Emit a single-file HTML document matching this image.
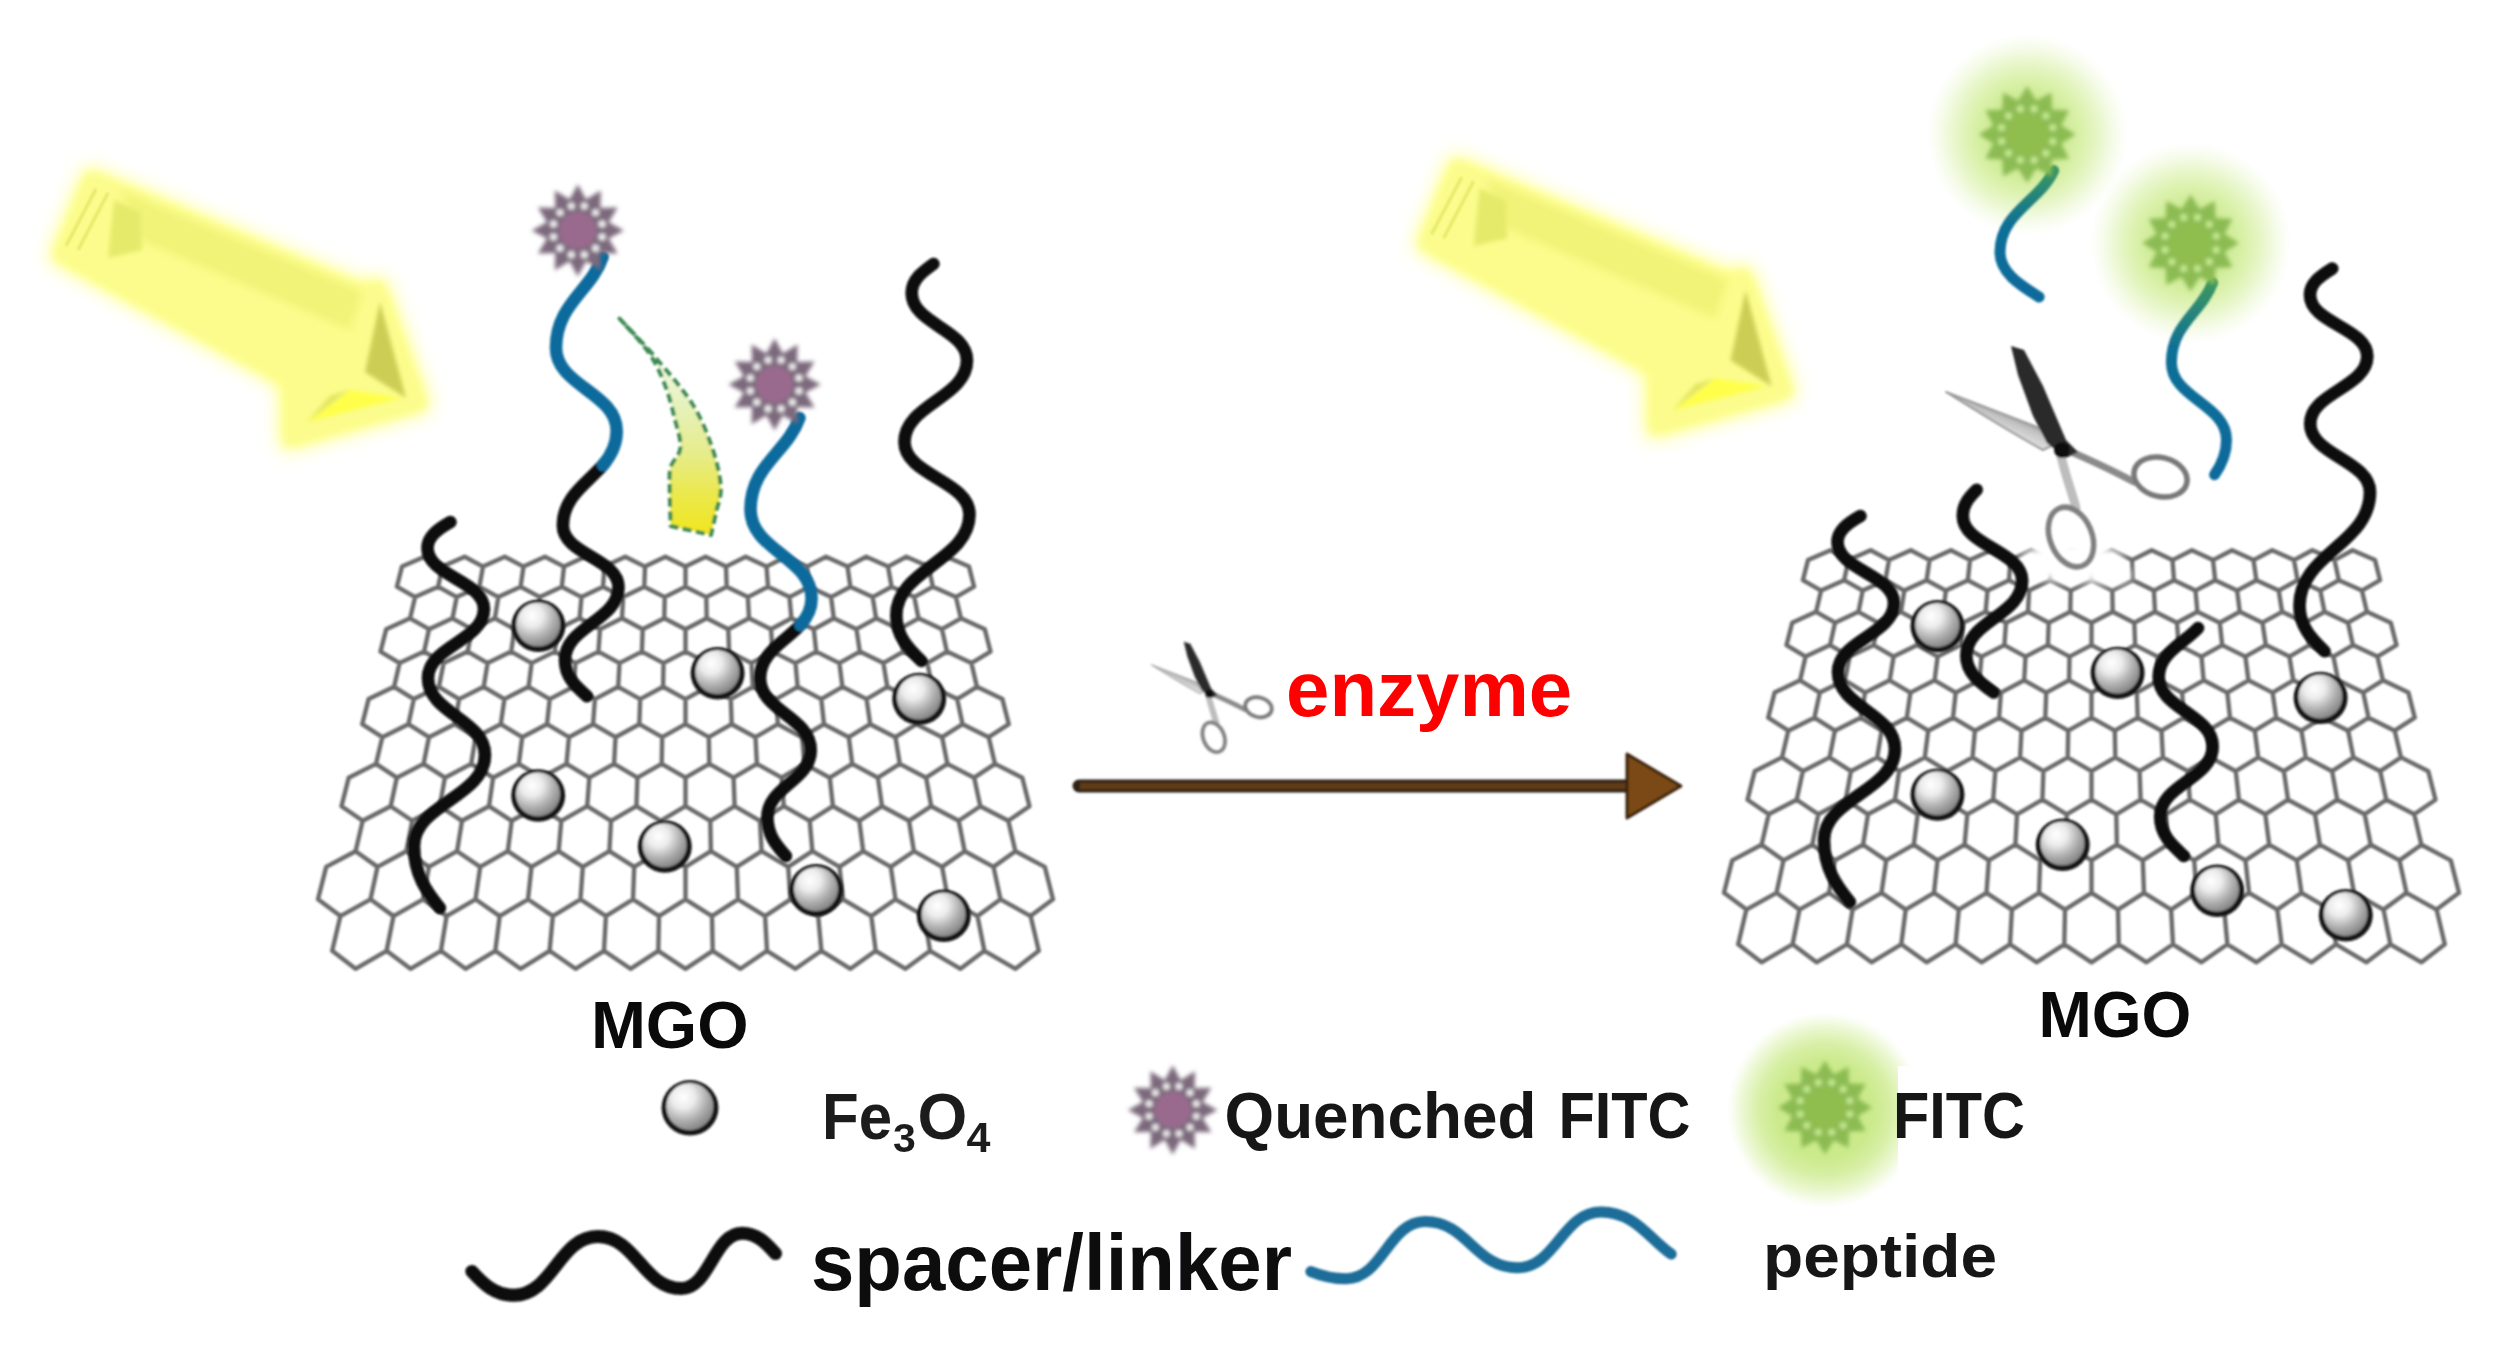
<!DOCTYPE html>
<html><head><meta charset="utf-8"><title>MGO enzyme scheme</title>
<style>html,body{margin:0;padding:0;background:#fff}body{width:2504px;height:1372px;overflow:hidden}svg{display:block}</style>
</head><body>
<svg width="2504" height="1372" viewBox="0 0 2504 1372">
<defs>
<radialGradient id="ballg" cx="0.36" cy="0.30" r="0.80">
<stop offset="0" stop-color="#ffffff"/><stop offset="0.30" stop-color="#ececec"/>
<stop offset="0.62" stop-color="#b0b0b0"/><stop offset="1" stop-color="#767676"/></radialGradient>
<radialGradient id="gglow" cx="0.5" cy="0.5" r="0.5">
<stop offset="0" stop-color="#c6e888" stop-opacity="0.95"/><stop offset="0.38" stop-color="#c8e98a" stop-opacity="0.9"/>
<stop offset="0.55" stop-color="#cdec8c" stop-opacity="0.74"/><stop offset="0.72" stop-color="#cdec8c" stop-opacity="0.46"/>
<stop offset="0.87" stop-color="#cdec8c" stop-opacity="0.18"/>
<stop offset="1" stop-color="#cdec8c" stop-opacity="0"/></radialGradient>
<radialGradient id="gglow2" cx="0.5" cy="0.5" r="0.5">
<stop offset="0" stop-color="#c6e880" stop-opacity="0.95"/><stop offset="0.5" stop-color="#c6e880" stop-opacity="0.9"/>
<stop offset="0.68" stop-color="#c8e984" stop-opacity="0.72"/>
<stop offset="0.85" stop-color="#cdec8c" stop-opacity="0.38"/><stop offset="0.95" stop-color="#cdec8c" stop-opacity="0.1"/>
<stop offset="1" stop-color="#cdec8c" stop-opacity="0"/></radialGradient>
<linearGradient id="swoosh" x1="0" y1="0" x2="0" y2="1">
<stop offset="0" stop-color="#e8f6e0" stop-opacity="0.3"/><stop offset="0.40" stop-color="#e6f2bc"/><stop offset="0.62" stop-color="#e6ec8c"/>
<stop offset="0.82" stop-color="#ebe84a"/><stop offset="1" stop-color="#f0e61e"/></linearGradient>
<linearGradient id="tail1" gradientUnits="userSpaceOnUse" x1="0" y1="165" x2="0" y2="300">
<stop offset="0" stop-color="#3f9a5c"/><stop offset="0.45" stop-color="#0f6f96"/><stop offset="1" stop-color="#0b6a9c"/></linearGradient>
<linearGradient id="tail2" gradientUnits="userSpaceOnUse" x1="0" y1="278" x2="0" y2="480">
<stop offset="0" stop-color="#3f9a5c"/><stop offset="0.35" stop-color="#0f6f96"/><stop offset="1" stop-color="#0b6a9c"/></linearGradient>
<linearGradient id="blade" gradientUnits="userSpaceOnUse" x1="2005" y1="408" x2="1995" y2="432">
<stop offset="0" stop-color="#868686"/><stop offset="0.4" stop-color="#c2c2c2"/><stop offset="1" stop-color="#e6e6e6"/></linearGradient>
<filter id="b1" filterUnits="userSpaceOnUse" x="0" y="0" width="2504" height="1372"><feGaussianBlur stdDeviation="1.2"/></filter>
<filter id="b05" filterUnits="userSpaceOnUse" x="0" y="0" width="2504" height="1372"><feGaussianBlur stdDeviation="0.7"/></filter>
<filter id="b15" filterUnits="userSpaceOnUse" x="0" y="0" width="2504" height="1372"><feGaussianBlur stdDeviation="2.3"/></filter>
<filter id="b2" filterUnits="userSpaceOnUse" x="0" y="0" width="2504" height="1372"><feGaussianBlur stdDeviation="2"/></filter>
<filter id="b4" filterUnits="userSpaceOnUse" x="0" y="0" width="2504" height="1372"><feGaussianBlur stdDeviation="4"/></filter>
<filter id="b10" filterUnits="userSpaceOnUse" x="0" y="0" width="2504" height="1372"><feGaussianBlur stdDeviation="10"/></filter>
<filter id="b14" filterUnits="userSpaceOnUse" x="0" y="0" width="2504" height="1372"><feGaussianBlur stdDeviation="14"/></filter>
</defs>
<rect width="2504" height="1372" fill="#ffffff"/>
<g><polygon points="89.0,173.0 362.0,288.0 381.0,283.0 425.0,406.0 286.0,445.0 286.0,383.0 55.0,257.0" fill="#ffff62" stroke="#ffff62" stroke-width="9" stroke-linejoin="round" filter="url(#b10)" opacity="0.95"/><polygon points="89.0,173.0 362.0,288.0 381.0,283.0 425.0,406.0 286.0,445.0 286.0,383.0 55.0,257.0" fill="#fbfc8c" stroke="#fbfc8c" stroke-width="3" stroke-linejoin="round" filter="url(#b4)"/><polygon points="120.0,190.0 362.0,292.0 350.0,330.0 140.0,240.0" fill="#f0f377" filter="url(#b4)"/><polygon points="114.0,200.0 140.0,212.0 142.0,250.0 108.0,258.0" fill="#e6ea6a" filter="url(#b2)"/><line x1="108.0" y1="193.0" x2="78.0" y2="250.0" stroke="#e4e86a" stroke-width="3" filter="url(#b1)"/><line x1="96.0" y1="189.0" x2="66.0" y2="246.0" stroke="#e4e86a" stroke-width="3" filter="url(#b1)"/><polygon points="380.0,302.0 365.0,372.0 406.0,398.0" fill="#cccd55" filter="url(#b2)"/><polygon points="307.0,422.0 349.0,390.0 401.0,398.0" fill="#ffff4a" filter="url(#b2)"/><polygon points="307.0,422.0 349.0,390.0 330.0,396.0" fill="#e2e45c" filter="url(#b2)"/></g>
<g><polygon points="1454.6,161.2 1727.6,276.2 1746.6,271.2 1790.6,394.2 1651.6,433.2 1651.6,371.2 1420.6,245.2" fill="#ffff62" stroke="#ffff62" stroke-width="9" stroke-linejoin="round" filter="url(#b10)" opacity="0.95"/><polygon points="1454.6,161.2 1727.6,276.2 1746.6,271.2 1790.6,394.2 1651.6,433.2 1651.6,371.2 1420.6,245.2" fill="#fbfc8c" stroke="#fbfc8c" stroke-width="3" stroke-linejoin="round" filter="url(#b4)"/><polygon points="1485.6,178.2 1727.6,280.2 1715.6,318.2 1505.6,228.2" fill="#f0f377" filter="url(#b4)"/><polygon points="1479.6,188.2 1505.6,200.2 1507.6,238.2 1473.6,246.2" fill="#e6ea6a" filter="url(#b2)"/><line x1="1473.6" y1="181.2" x2="1443.6" y2="238.2" stroke="#e4e86a" stroke-width="3" filter="url(#b1)"/><line x1="1461.6" y1="177.2" x2="1431.6" y2="234.2" stroke="#e4e86a" stroke-width="3" filter="url(#b1)"/><polygon points="1745.6,290.2 1730.6,360.2 1771.6,386.2" fill="#cccd55" filter="url(#b2)"/><polygon points="1672.6,410.2 1714.6,378.2 1766.6,386.2" fill="#ffff4a" filter="url(#b2)"/><polygon points="1672.6,410.2 1714.6,378.2 1695.6,384.2" fill="#e2e45c" filter="url(#b2)"/></g>
<g filter="url(#b1)">
<path d="M424.5,556.8 L442.5,566.6 L438.1,586.7 L415.1,597.1 L396.9,586.7 L402.0,566.6Z M464.7,556.8 L483.0,566.6 L479.4,586.7 L456.7,597.1 L438.1,586.7 L442.5,566.6Z M504.8,556.8 L523.5,566.6 L520.6,586.7 L498.3,597.1 L479.4,586.7 L483.0,566.6Z M545.0,556.8 L564.0,566.6 L561.8,586.7 L539.9,597.1 L520.6,586.7 L523.5,566.6Z M585.1,556.8 L604.5,566.6 L603.0,586.7 L581.5,597.1 L561.8,586.7 L564.0,566.6Z M625.3,556.8 L645.0,566.6 L644.3,586.7 L623.1,597.1 L603.0,586.7 L604.5,566.6Z M665.4,556.8 L685.5,566.6 L685.5,586.7 L664.7,597.1 L644.3,586.7 L645.0,566.6Z M705.6,556.8 L726.0,566.6 L726.7,586.7 L706.3,597.1 L685.5,586.7 L685.5,566.6Z M745.7,556.8 L766.5,566.6 L768.0,586.7 L747.9,597.1 L726.7,586.7 L726.0,566.6Z M785.9,556.8 L807.0,566.6 L809.2,586.7 L789.5,597.1 L768.0,586.7 L766.5,566.6Z M826.0,556.8 L847.5,566.6 L850.4,586.7 L831.1,597.1 L809.2,586.7 L807.0,566.6Z M866.2,556.8 L888.0,566.6 L891.6,586.7 L872.7,597.1 L850.4,586.7 L847.5,566.6Z M906.3,556.8 L928.5,566.6 L932.9,586.7 L914.3,597.1 L891.6,586.7 L888.0,566.6Z M946.5,556.8 L969.0,566.6 L974.1,586.7 L955.9,597.1 L932.9,586.7 L928.5,566.6Z M438.1,586.7 L456.7,597.1 L452.5,618.3 L429.0,629.2 L410.1,618.3 L415.1,597.1Z M479.4,586.7 L498.3,597.1 L494.9,618.3 L471.7,629.2 L452.5,618.3 L456.7,597.1Z M520.6,586.7 L539.9,597.1 L537.2,618.3 L514.5,629.2 L494.9,618.3 L498.3,597.1Z M561.8,586.7 L581.5,597.1 L579.6,618.3 L557.2,629.2 L537.2,618.3 L539.9,597.1Z M603.0,586.7 L623.1,597.1 L622.0,618.3 L600.0,629.2 L579.6,618.3 L581.5,597.1Z M644.3,586.7 L664.7,597.1 L664.3,618.3 L642.7,629.2 L622.0,618.3 L623.1,597.1Z M685.5,586.7 L706.3,597.1 L706.7,618.3 L685.5,629.2 L664.3,618.3 L664.7,597.1Z M726.7,586.7 L747.9,597.1 L749.0,618.3 L728.3,629.2 L706.7,618.3 L706.3,597.1Z M768.0,586.7 L789.5,597.1 L791.4,618.3 L771.0,629.2 L749.0,618.3 L747.9,597.1Z M809.2,586.7 L831.1,597.1 L833.8,618.3 L813.8,629.2 L791.4,618.3 L789.5,597.1Z M850.4,586.7 L872.7,597.1 L876.1,618.3 L856.5,629.2 L833.8,618.3 L831.1,597.1Z M891.6,586.7 L914.3,597.1 L918.5,618.3 L899.3,629.2 L876.1,618.3 L872.7,597.1Z M932.9,586.7 L955.9,597.1 L960.9,618.3 L942.0,629.2 L918.5,618.3 L914.3,597.1Z M410.1,618.3 L429.0,629.2 L424.1,651.6 L399.6,663.1 L380.5,651.6 L386.2,629.2Z M452.5,618.3 L471.7,629.2 L467.7,651.6 L443.6,663.1 L424.1,651.6 L429.0,629.2Z M494.9,618.3 L514.5,629.2 L511.2,651.6 L487.6,663.1 L467.7,651.6 L471.7,629.2Z M537.2,618.3 L557.2,629.2 L554.8,651.6 L531.6,663.1 L511.2,651.6 L514.5,629.2Z M579.6,618.3 L600.0,629.2 L598.4,651.6 L575.5,663.1 L554.8,651.6 L557.2,629.2Z M622.0,618.3 L642.7,629.2 L641.9,651.6 L619.5,663.1 L598.4,651.6 L600.0,629.2Z M664.3,618.3 L685.5,629.2 L685.5,651.6 L663.5,663.1 L641.9,651.6 L642.7,629.2Z M706.7,618.3 L728.3,629.2 L729.1,651.6 L707.5,663.1 L685.5,651.6 L685.5,629.2Z M749.0,618.3 L771.0,629.2 L772.6,651.6 L751.5,663.1 L729.1,651.6 L728.3,629.2Z M791.4,618.3 L813.8,629.2 L816.2,651.6 L795.5,663.1 L772.6,651.6 L771.0,629.2Z M833.8,618.3 L856.5,629.2 L859.8,651.6 L839.4,663.1 L816.2,651.6 L813.8,629.2Z M876.1,618.3 L899.3,629.2 L903.3,651.6 L883.4,663.1 L859.8,651.6 L856.5,629.2Z M918.5,618.3 L942.0,629.2 L946.9,651.6 L927.4,663.1 L903.3,651.6 L899.3,629.2Z M960.9,618.3 L984.8,629.2 L990.5,651.6 L971.4,663.1 L946.9,651.6 L942.0,629.2Z M424.1,651.6 L443.6,663.1 L438.9,686.8 L413.8,699.1 L394.1,686.8 L399.6,663.1Z M467.7,651.6 L487.6,663.1 L483.7,686.8 L459.1,699.1 L438.9,686.8 L443.6,663.1Z M511.2,651.6 L531.6,663.1 L528.6,686.8 L504.4,699.1 L483.7,686.8 L487.6,663.1Z M554.8,651.6 L575.5,663.1 L573.4,686.8 L549.7,699.1 L528.6,686.8 L531.6,663.1Z M598.4,651.6 L619.5,663.1 L618.2,686.8 L594.9,699.1 L573.4,686.8 L575.5,663.1Z M641.9,651.6 L663.5,663.1 L663.1,686.8 L640.2,699.1 L618.2,686.8 L619.5,663.1Z M685.5,651.6 L707.5,663.1 L707.9,686.8 L685.5,699.1 L663.1,686.8 L663.5,663.1Z M729.1,651.6 L751.5,663.1 L752.8,686.8 L730.8,699.1 L707.9,686.8 L707.5,663.1Z M772.6,651.6 L795.5,663.1 L797.6,686.8 L776.1,699.1 L752.8,686.8 L751.5,663.1Z M816.2,651.6 L839.4,663.1 L842.4,686.8 L821.3,699.1 L797.6,686.8 L795.5,663.1Z M859.8,651.6 L883.4,663.1 L887.3,686.8 L866.6,699.1 L842.4,686.8 L839.4,663.1Z M903.3,651.6 L927.4,663.1 L932.1,686.8 L911.9,699.1 L887.3,686.8 L883.4,663.1Z M946.9,651.6 L971.4,663.1 L976.9,686.8 L957.2,699.1 L932.1,686.8 L927.4,663.1Z M394.1,686.8 L413.8,699.1 L408.4,724.2 L382.3,737.2 L362.2,724.2 L368.6,699.1Z M438.9,686.8 L459.1,699.1 L454.6,724.2 L428.9,737.2 L408.4,724.2 L413.8,699.1Z M483.7,686.8 L504.4,699.1 L500.8,724.2 L475.6,737.2 L454.6,724.2 L459.1,699.1Z M528.6,686.8 L549.7,699.1 L547.0,724.2 L522.2,737.2 L500.8,724.2 L504.4,699.1Z M573.4,686.8 L594.9,699.1 L593.1,724.2 L568.9,737.2 L547.0,724.2 L549.7,699.1Z M618.2,686.8 L640.2,699.1 L639.3,724.2 L615.5,737.2 L593.1,724.2 L594.9,699.1Z M663.1,686.8 L685.5,699.1 L685.5,724.2 L662.2,737.2 L639.3,724.2 L640.2,699.1Z M707.9,686.8 L730.8,699.1 L731.7,724.2 L708.8,737.2 L685.5,724.2 L685.5,699.1Z M752.8,686.8 L776.1,699.1 L777.9,724.2 L755.5,737.2 L731.7,724.2 L730.8,699.1Z M797.6,686.8 L821.3,699.1 L824.0,724.2 L802.1,737.2 L777.9,724.2 L776.1,699.1Z M842.4,686.8 L866.6,699.1 L870.2,724.2 L848.8,737.2 L824.0,724.2 L821.3,699.1Z M887.3,686.8 L911.9,699.1 L916.4,724.2 L895.4,737.2 L870.2,724.2 L866.6,699.1Z M932.1,686.8 L957.2,699.1 L962.6,724.2 L942.1,737.2 L916.4,724.2 L911.9,699.1Z M976.9,686.8 L1002.4,699.1 L1008.8,724.2 L988.7,737.2 L962.6,724.2 L957.2,699.1Z M408.4,724.2 L428.9,737.2 L423.6,763.9 L396.8,777.7 L376.0,763.9 L382.3,737.2Z M454.6,724.2 L475.6,737.2 L471.2,763.9 L444.9,777.7 L423.6,763.9 L428.9,737.2Z M500.8,724.2 L522.2,737.2 L518.8,763.9 L493.1,777.7 L471.2,763.9 L475.6,737.2Z M547.0,724.2 L568.9,737.2 L566.5,763.9 L541.2,777.7 L518.8,763.9 L522.2,737.2Z M593.1,724.2 L615.5,737.2 L614.1,763.9 L589.3,777.7 L566.5,763.9 L568.9,737.2Z M639.3,724.2 L662.2,737.2 L661.7,763.9 L637.4,777.7 L614.1,763.9 L615.5,737.2Z M685.5,724.2 L708.8,737.2 L709.3,763.9 L685.5,777.7 L661.7,763.9 L662.2,737.2Z M731.7,724.2 L755.5,737.2 L756.9,763.9 L733.6,777.7 L709.3,763.9 L708.8,737.2Z M777.9,724.2 L802.1,737.2 L804.5,763.9 L781.7,777.7 L756.9,763.9 L755.5,737.2Z M824.0,724.2 L848.8,737.2 L852.2,763.9 L829.8,777.7 L804.5,763.9 L802.1,737.2Z M870.2,724.2 L895.4,737.2 L899.8,763.9 L877.9,777.7 L852.2,763.9 L848.8,737.2Z M916.4,724.2 L942.1,737.2 L947.4,763.9 L926.1,777.7 L899.8,763.9 L895.4,737.2Z M962.6,724.2 L988.7,737.2 L995.0,763.9 L974.2,777.7 L947.4,763.9 L942.1,737.2Z M376.0,763.9 L396.8,777.7 L390.7,806.2 L362.7,820.8 L341.5,806.2 L348.7,777.7Z M423.6,763.9 L444.9,777.7 L439.8,806.2 L412.3,820.8 L390.7,806.2 L396.8,777.7Z M471.2,763.9 L493.1,777.7 L489.0,806.2 L462.0,820.8 L439.8,806.2 L444.9,777.7Z M518.8,763.9 L541.2,777.7 L538.1,806.2 L511.7,820.8 L489.0,806.2 L493.1,777.7Z M566.5,763.9 L589.3,777.7 L587.2,806.2 L561.3,820.8 L538.1,806.2 L541.2,777.7Z M614.1,763.9 L637.4,777.7 L636.4,806.2 L611.0,820.8 L587.2,806.2 L589.3,777.7Z M661.7,763.9 L685.5,777.7 L685.5,806.2 L660.7,820.8 L636.4,806.2 L637.4,777.7Z M709.3,763.9 L733.6,777.7 L734.6,806.2 L710.3,820.8 L685.5,806.2 L685.5,777.7Z M756.9,763.9 L781.7,777.7 L783.8,806.2 L760.0,820.8 L734.6,806.2 L733.6,777.7Z M804.5,763.9 L829.8,777.7 L832.9,806.2 L809.7,820.8 L783.8,806.2 L781.7,777.7Z M852.2,763.9 L877.9,777.7 L882.0,806.2 L859.3,820.8 L832.9,806.2 L829.8,777.7Z M899.8,763.9 L926.1,777.7 L931.2,806.2 L909.0,820.8 L882.0,806.2 L877.9,777.7Z M947.4,763.9 L974.2,777.7 L980.3,806.2 L958.7,820.8 L931.2,806.2 L926.1,777.7Z M995.0,763.9 L1022.3,777.7 L1029.5,806.2 L1008.3,820.8 L980.3,806.2 L974.2,777.7Z M390.7,806.2 L412.3,820.8 L406.3,851.2 L377.5,866.9 L355.6,851.2 L362.7,820.8Z M439.8,806.2 L462.0,820.8 L457.1,851.2 L428.9,866.9 L406.3,851.2 L412.3,820.8Z M489.0,806.2 L511.7,820.8 L507.8,851.2 L480.2,866.9 L457.1,851.2 L462.0,820.8Z M538.1,806.2 L561.3,820.8 L558.6,851.2 L531.5,866.9 L507.8,851.2 L511.7,820.8Z M587.2,806.2 L611.0,820.8 L609.4,851.2 L582.8,866.9 L558.6,851.2 L561.3,820.8Z M636.4,806.2 L660.7,820.8 L660.1,851.2 L634.2,866.9 L609.4,851.2 L611.0,820.8Z M685.5,806.2 L710.3,820.8 L710.9,851.2 L685.5,866.9 L660.1,851.2 L660.7,820.8Z M734.6,806.2 L760.0,820.8 L761.6,851.2 L736.8,866.9 L710.9,851.2 L710.3,820.8Z M783.8,806.2 L809.7,820.8 L812.4,851.2 L788.2,866.9 L761.6,851.2 L760.0,820.8Z M832.9,806.2 L859.3,820.8 L863.2,851.2 L839.5,866.9 L812.4,851.2 L809.7,820.8Z M882.0,806.2 L909.0,820.8 L913.9,851.2 L890.8,866.9 L863.2,851.2 L859.3,820.8Z M931.2,806.2 L958.7,820.8 L964.7,851.2 L942.1,866.9 L913.9,851.2 L909.0,820.8Z M980.3,806.2 L1008.3,820.8 L1015.4,851.2 L993.5,866.9 L964.7,851.2 L958.7,820.8Z M355.6,851.2 L377.5,866.9 L370.5,899.3 L340.4,916.1 L318.0,899.3 L326.2,866.9Z M406.3,851.2 L428.9,866.9 L423.0,899.3 L393.5,916.1 L370.5,899.3 L377.5,866.9Z M457.1,851.2 L480.2,866.9 L475.5,899.3 L446.6,916.1 L423.0,899.3 L428.9,866.9Z M507.8,851.2 L531.5,866.9 L528.0,899.3 L499.7,916.1 L475.5,899.3 L480.2,866.9Z M558.6,851.2 L582.8,866.9 L580.5,899.3 L552.8,916.1 L528.0,899.3 L531.5,866.9Z M609.4,851.2 L634.2,866.9 L633.0,899.3 L605.9,916.1 L580.5,899.3 L582.8,866.9Z M660.1,851.2 L685.5,866.9 L685.5,899.3 L659.0,916.1 L633.0,899.3 L634.2,866.9Z M710.9,851.2 L736.8,866.9 L738.0,899.3 L712.0,916.1 L685.5,899.3 L685.5,866.9Z M761.6,851.2 L788.2,866.9 L790.5,899.3 L765.1,916.1 L738.0,899.3 L736.8,866.9Z M812.4,851.2 L839.5,866.9 L843.0,899.3 L818.2,916.1 L790.5,899.3 L788.2,866.9Z M863.2,851.2 L890.8,866.9 L895.5,899.3 L871.3,916.1 L843.0,899.3 L839.5,866.9Z M913.9,851.2 L942.1,866.9 L948.0,899.3 L924.4,916.1 L895.5,899.3 L890.8,866.9Z M964.7,851.2 L993.5,866.9 L1000.5,899.3 L977.5,916.1 L948.0,899.3 L942.1,866.9Z M1015.4,851.2 L1044.8,866.9 L1053.0,899.3 L1030.6,916.1 L1000.5,899.3 L993.5,866.9Z M370.5,899.3 L393.5,916.1 L386.6,950.8 L355.5,968.8 L332.2,950.8 L340.4,916.1Z M423.0,899.3 L446.6,916.1 L440.9,950.8 L410.5,968.8 L386.6,950.8 L393.5,916.1Z M475.5,899.3 L499.7,916.1 L495.3,950.8 L465.5,968.8 L440.9,950.8 L446.6,916.1Z M528.0,899.3 L552.8,916.1 L549.6,950.8 L520.5,968.8 L495.3,950.8 L499.7,916.1Z M580.5,899.3 L605.9,916.1 L604.0,950.8 L575.5,968.8 L549.6,950.8 L552.8,916.1Z M633.0,899.3 L659.0,916.1 L658.3,950.8 L630.5,968.8 L604.0,950.8 L605.9,916.1Z M685.5,899.3 L712.0,916.1 L712.7,950.8 L685.5,968.8 L658.3,950.8 L659.0,916.1Z M738.0,899.3 L765.1,916.1 L767.0,950.8 L740.5,968.8 L712.7,950.8 L712.0,916.1Z M790.5,899.3 L818.2,916.1 L821.4,950.8 L795.5,968.8 L767.0,950.8 L765.1,916.1Z M843.0,899.3 L871.3,916.1 L875.7,950.8 L850.5,968.8 L821.4,950.8 L818.2,916.1Z M895.5,899.3 L924.4,916.1 L930.1,950.8 L905.5,968.8 L875.7,950.8 L871.3,916.1Z M948.0,899.3 L977.5,916.1 L984.4,950.8 L960.5,968.8 L930.1,950.8 L924.4,916.1Z M1000.5,899.3 L1030.6,916.1 L1038.8,950.8 L1015.5,968.8 L984.4,950.8 L977.5,916.1Z " fill="none" stroke="#6a6a6a" stroke-width="4.4" stroke-linejoin="round"/>
<path d="M1830.5,550.3 L1848.5,560.1 L1844.1,580.2 L1821.1,590.6 L1802.9,580.2 L1808.0,560.1Z M1870.7,550.3 L1889.0,560.1 L1885.4,580.2 L1862.7,590.6 L1844.1,580.2 L1848.5,560.1Z M1910.8,550.3 L1929.5,560.1 L1926.6,580.2 L1904.3,590.6 L1885.4,580.2 L1889.0,560.1Z M1951.0,550.3 L1970.0,560.1 L1967.8,580.2 L1945.9,590.6 L1926.6,580.2 L1929.5,560.1Z M1991.1,550.3 L2010.5,560.1 L2009.0,580.2 L1987.5,590.6 L1967.8,580.2 L1970.0,560.1Z M2031.3,550.3 L2051.0,560.1 L2050.3,580.2 L2029.1,590.6 L2009.0,580.2 L2010.5,560.1Z M2071.4,550.3 L2091.5,560.1 L2091.5,580.2 L2070.7,590.6 L2050.3,580.2 L2051.0,560.1Z M2111.6,550.3 L2132.0,560.1 L2132.7,580.2 L2112.3,590.6 L2091.5,580.2 L2091.5,560.1Z M2151.7,550.3 L2172.5,560.1 L2174.0,580.2 L2153.9,590.6 L2132.7,580.2 L2132.0,560.1Z M2191.9,550.3 L2213.0,560.1 L2215.2,580.2 L2195.5,590.6 L2174.0,580.2 L2172.5,560.1Z M2232.0,550.3 L2253.5,560.1 L2256.4,580.2 L2237.1,590.6 L2215.2,580.2 L2213.0,560.1Z M2272.2,550.3 L2294.0,560.1 L2297.6,580.2 L2278.7,590.6 L2256.4,580.2 L2253.5,560.1Z M2312.3,550.3 L2334.5,560.1 L2338.9,580.2 L2320.3,590.6 L2297.6,580.2 L2294.0,560.1Z M2352.5,550.3 L2375.0,560.1 L2380.1,580.2 L2361.9,590.6 L2338.9,580.2 L2334.5,560.1Z M1844.1,580.2 L1862.7,590.6 L1858.5,611.8 L1835.0,622.7 L1816.1,611.8 L1821.1,590.6Z M1885.4,580.2 L1904.3,590.6 L1900.9,611.8 L1877.7,622.7 L1858.5,611.8 L1862.7,590.6Z M1926.6,580.2 L1945.9,590.6 L1943.2,611.8 L1920.5,622.7 L1900.9,611.8 L1904.3,590.6Z M1967.8,580.2 L1987.5,590.6 L1985.6,611.8 L1963.2,622.7 L1943.2,611.8 L1945.9,590.6Z M2009.0,580.2 L2029.1,590.6 L2028.0,611.8 L2006.0,622.7 L1985.6,611.8 L1987.5,590.6Z M2050.3,580.2 L2070.7,590.6 L2070.3,611.8 L2048.7,622.7 L2028.0,611.8 L2029.1,590.6Z M2091.5,580.2 L2112.3,590.6 L2112.7,611.8 L2091.5,622.7 L2070.3,611.8 L2070.7,590.6Z M2132.7,580.2 L2153.9,590.6 L2155.0,611.8 L2134.3,622.7 L2112.7,611.8 L2112.3,590.6Z M2174.0,580.2 L2195.5,590.6 L2197.4,611.8 L2177.0,622.7 L2155.0,611.8 L2153.9,590.6Z M2215.2,580.2 L2237.1,590.6 L2239.8,611.8 L2219.8,622.7 L2197.4,611.8 L2195.5,590.6Z M2256.4,580.2 L2278.7,590.6 L2282.1,611.8 L2262.5,622.7 L2239.8,611.8 L2237.1,590.6Z M2297.6,580.2 L2320.3,590.6 L2324.5,611.8 L2305.3,622.7 L2282.1,611.8 L2278.7,590.6Z M2338.9,580.2 L2361.9,590.6 L2366.9,611.8 L2348.0,622.7 L2324.5,611.8 L2320.3,590.6Z M1816.1,611.8 L1835.0,622.7 L1830.1,645.1 L1805.6,656.6 L1786.5,645.1 L1792.2,622.7Z M1858.5,611.8 L1877.7,622.7 L1873.7,645.1 L1849.6,656.6 L1830.1,645.1 L1835.0,622.7Z M1900.9,611.8 L1920.5,622.7 L1917.2,645.1 L1893.6,656.6 L1873.7,645.1 L1877.7,622.7Z M1943.2,611.8 L1963.2,622.7 L1960.8,645.1 L1937.6,656.6 L1917.2,645.1 L1920.5,622.7Z M1985.6,611.8 L2006.0,622.7 L2004.4,645.1 L1981.5,656.6 L1960.8,645.1 L1963.2,622.7Z M2028.0,611.8 L2048.7,622.7 L2047.9,645.1 L2025.5,656.6 L2004.4,645.1 L2006.0,622.7Z M2070.3,611.8 L2091.5,622.7 L2091.5,645.1 L2069.5,656.6 L2047.9,645.1 L2048.7,622.7Z M2112.7,611.8 L2134.3,622.7 L2135.1,645.1 L2113.5,656.6 L2091.5,645.1 L2091.5,622.7Z M2155.0,611.8 L2177.0,622.7 L2178.6,645.1 L2157.5,656.6 L2135.1,645.1 L2134.3,622.7Z M2197.4,611.8 L2219.8,622.7 L2222.2,645.1 L2201.5,656.6 L2178.6,645.1 L2177.0,622.7Z M2239.8,611.8 L2262.5,622.7 L2265.8,645.1 L2245.4,656.6 L2222.2,645.1 L2219.8,622.7Z M2282.1,611.8 L2305.3,622.7 L2309.3,645.1 L2289.4,656.6 L2265.8,645.1 L2262.5,622.7Z M2324.5,611.8 L2348.0,622.7 L2352.9,645.1 L2333.4,656.6 L2309.3,645.1 L2305.3,622.7Z M2366.9,611.8 L2390.8,622.7 L2396.5,645.1 L2377.4,656.6 L2352.9,645.1 L2348.0,622.7Z M1830.1,645.1 L1849.6,656.6 L1844.9,680.3 L1819.8,692.6 L1800.1,680.3 L1805.6,656.6Z M1873.7,645.1 L1893.6,656.6 L1889.7,680.3 L1865.1,692.6 L1844.9,680.3 L1849.6,656.6Z M1917.2,645.1 L1937.6,656.6 L1934.6,680.3 L1910.4,692.6 L1889.7,680.3 L1893.6,656.6Z M1960.8,645.1 L1981.5,656.6 L1979.4,680.3 L1955.7,692.6 L1934.6,680.3 L1937.6,656.6Z M2004.4,645.1 L2025.5,656.6 L2024.2,680.3 L2000.9,692.6 L1979.4,680.3 L1981.5,656.6Z M2047.9,645.1 L2069.5,656.6 L2069.1,680.3 L2046.2,692.6 L2024.2,680.3 L2025.5,656.6Z M2091.5,645.1 L2113.5,656.6 L2113.9,680.3 L2091.5,692.6 L2069.1,680.3 L2069.5,656.6Z M2135.1,645.1 L2157.5,656.6 L2158.8,680.3 L2136.8,692.6 L2113.9,680.3 L2113.5,656.6Z M2178.6,645.1 L2201.5,656.6 L2203.6,680.3 L2182.1,692.6 L2158.8,680.3 L2157.5,656.6Z M2222.2,645.1 L2245.4,656.6 L2248.4,680.3 L2227.3,692.6 L2203.6,680.3 L2201.5,656.6Z M2265.8,645.1 L2289.4,656.6 L2293.3,680.3 L2272.6,692.6 L2248.4,680.3 L2245.4,656.6Z M2309.3,645.1 L2333.4,656.6 L2338.1,680.3 L2317.9,692.6 L2293.3,680.3 L2289.4,656.6Z M2352.9,645.1 L2377.4,656.6 L2382.9,680.3 L2363.2,692.6 L2338.1,680.3 L2333.4,656.6Z M1800.1,680.3 L1819.8,692.6 L1814.4,717.7 L1788.3,730.7 L1768.2,717.7 L1774.6,692.6Z M1844.9,680.3 L1865.1,692.6 L1860.6,717.7 L1834.9,730.7 L1814.4,717.7 L1819.8,692.6Z M1889.7,680.3 L1910.4,692.6 L1906.8,717.7 L1881.6,730.7 L1860.6,717.7 L1865.1,692.6Z M1934.6,680.3 L1955.7,692.6 L1953.0,717.7 L1928.2,730.7 L1906.8,717.7 L1910.4,692.6Z M1979.4,680.3 L2000.9,692.6 L1999.1,717.7 L1974.9,730.7 L1953.0,717.7 L1955.7,692.6Z M2024.2,680.3 L2046.2,692.6 L2045.3,717.7 L2021.5,730.7 L1999.1,717.7 L2000.9,692.6Z M2069.1,680.3 L2091.5,692.6 L2091.5,717.7 L2068.2,730.7 L2045.3,717.7 L2046.2,692.6Z M2113.9,680.3 L2136.8,692.6 L2137.7,717.7 L2114.8,730.7 L2091.5,717.7 L2091.5,692.6Z M2158.8,680.3 L2182.1,692.6 L2183.9,717.7 L2161.5,730.7 L2137.7,717.7 L2136.8,692.6Z M2203.6,680.3 L2227.3,692.6 L2230.0,717.7 L2208.1,730.7 L2183.9,717.7 L2182.1,692.6Z M2248.4,680.3 L2272.6,692.6 L2276.2,717.7 L2254.8,730.7 L2230.0,717.7 L2227.3,692.6Z M2293.3,680.3 L2317.9,692.6 L2322.4,717.7 L2301.4,730.7 L2276.2,717.7 L2272.6,692.6Z M2338.1,680.3 L2363.2,692.6 L2368.6,717.7 L2348.1,730.7 L2322.4,717.7 L2317.9,692.6Z M2382.9,680.3 L2408.4,692.6 L2414.8,717.7 L2394.7,730.7 L2368.6,717.7 L2363.2,692.6Z M1814.4,717.7 L1834.9,730.7 L1829.6,757.4 L1802.8,771.2 L1782.0,757.4 L1788.3,730.7Z M1860.6,717.7 L1881.6,730.7 L1877.2,757.4 L1850.9,771.2 L1829.6,757.4 L1834.9,730.7Z M1906.8,717.7 L1928.2,730.7 L1924.8,757.4 L1899.1,771.2 L1877.2,757.4 L1881.6,730.7Z M1953.0,717.7 L1974.9,730.7 L1972.5,757.4 L1947.2,771.2 L1924.8,757.4 L1928.2,730.7Z M1999.1,717.7 L2021.5,730.7 L2020.1,757.4 L1995.3,771.2 L1972.5,757.4 L1974.9,730.7Z M2045.3,717.7 L2068.2,730.7 L2067.7,757.4 L2043.4,771.2 L2020.1,757.4 L2021.5,730.7Z M2091.5,717.7 L2114.8,730.7 L2115.3,757.4 L2091.5,771.2 L2067.7,757.4 L2068.2,730.7Z M2137.7,717.7 L2161.5,730.7 L2162.9,757.4 L2139.6,771.2 L2115.3,757.4 L2114.8,730.7Z M2183.9,717.7 L2208.1,730.7 L2210.5,757.4 L2187.7,771.2 L2162.9,757.4 L2161.5,730.7Z M2230.0,717.7 L2254.8,730.7 L2258.2,757.4 L2235.8,771.2 L2210.5,757.4 L2208.1,730.7Z M2276.2,717.7 L2301.4,730.7 L2305.8,757.4 L2283.9,771.2 L2258.2,757.4 L2254.8,730.7Z M2322.4,717.7 L2348.1,730.7 L2353.4,757.4 L2332.1,771.2 L2305.8,757.4 L2301.4,730.7Z M2368.6,717.7 L2394.7,730.7 L2401.0,757.4 L2380.2,771.2 L2353.4,757.4 L2348.1,730.7Z M1782.0,757.4 L1802.8,771.2 L1796.7,799.7 L1768.7,814.3 L1747.5,799.7 L1754.7,771.2Z M1829.6,757.4 L1850.9,771.2 L1845.8,799.7 L1818.3,814.3 L1796.7,799.7 L1802.8,771.2Z M1877.2,757.4 L1899.1,771.2 L1895.0,799.7 L1868.0,814.3 L1845.8,799.7 L1850.9,771.2Z M1924.8,757.4 L1947.2,771.2 L1944.1,799.7 L1917.7,814.3 L1895.0,799.7 L1899.1,771.2Z M1972.5,757.4 L1995.3,771.2 L1993.2,799.7 L1967.3,814.3 L1944.1,799.7 L1947.2,771.2Z M2020.1,757.4 L2043.4,771.2 L2042.4,799.7 L2017.0,814.3 L1993.2,799.7 L1995.3,771.2Z M2067.7,757.4 L2091.5,771.2 L2091.5,799.7 L2066.7,814.3 L2042.4,799.7 L2043.4,771.2Z M2115.3,757.4 L2139.6,771.2 L2140.6,799.7 L2116.3,814.3 L2091.5,799.7 L2091.5,771.2Z M2162.9,757.4 L2187.7,771.2 L2189.8,799.7 L2166.0,814.3 L2140.6,799.7 L2139.6,771.2Z M2210.5,757.4 L2235.8,771.2 L2238.9,799.7 L2215.7,814.3 L2189.8,799.7 L2187.7,771.2Z M2258.2,757.4 L2283.9,771.2 L2288.0,799.7 L2265.3,814.3 L2238.9,799.7 L2235.8,771.2Z M2305.8,757.4 L2332.1,771.2 L2337.2,799.7 L2315.0,814.3 L2288.0,799.7 L2283.9,771.2Z M2353.4,757.4 L2380.2,771.2 L2386.3,799.7 L2364.7,814.3 L2337.2,799.7 L2332.1,771.2Z M2401.0,757.4 L2428.3,771.2 L2435.5,799.7 L2414.3,814.3 L2386.3,799.7 L2380.2,771.2Z M1796.7,799.7 L1818.3,814.3 L1812.3,844.7 L1783.5,860.4 L1761.6,844.7 L1768.7,814.3Z M1845.8,799.7 L1868.0,814.3 L1863.1,844.7 L1834.9,860.4 L1812.3,844.7 L1818.3,814.3Z M1895.0,799.7 L1917.7,814.3 L1913.8,844.7 L1886.2,860.4 L1863.1,844.7 L1868.0,814.3Z M1944.1,799.7 L1967.3,814.3 L1964.6,844.7 L1937.5,860.4 L1913.8,844.7 L1917.7,814.3Z M1993.2,799.7 L2017.0,814.3 L2015.4,844.7 L1988.8,860.4 L1964.6,844.7 L1967.3,814.3Z M2042.4,799.7 L2066.7,814.3 L2066.1,844.7 L2040.2,860.4 L2015.4,844.7 L2017.0,814.3Z M2091.5,799.7 L2116.3,814.3 L2116.9,844.7 L2091.5,860.4 L2066.1,844.7 L2066.7,814.3Z M2140.6,799.7 L2166.0,814.3 L2167.6,844.7 L2142.8,860.4 L2116.9,844.7 L2116.3,814.3Z M2189.8,799.7 L2215.7,814.3 L2218.4,844.7 L2194.2,860.4 L2167.6,844.7 L2166.0,814.3Z M2238.9,799.7 L2265.3,814.3 L2269.2,844.7 L2245.5,860.4 L2218.4,844.7 L2215.7,814.3Z M2288.0,799.7 L2315.0,814.3 L2319.9,844.7 L2296.8,860.4 L2269.2,844.7 L2265.3,814.3Z M2337.2,799.7 L2364.7,814.3 L2370.7,844.7 L2348.1,860.4 L2319.9,844.7 L2315.0,814.3Z M2386.3,799.7 L2414.3,814.3 L2421.4,844.7 L2399.5,860.4 L2370.7,844.7 L2364.7,814.3Z M1761.6,844.7 L1783.5,860.4 L1776.5,892.8 L1746.4,909.6 L1724.0,892.8 L1732.2,860.4Z M1812.3,844.7 L1834.9,860.4 L1829.0,892.8 L1799.5,909.6 L1776.5,892.8 L1783.5,860.4Z M1863.1,844.7 L1886.2,860.4 L1881.5,892.8 L1852.6,909.6 L1829.0,892.8 L1834.9,860.4Z M1913.8,844.7 L1937.5,860.4 L1934.0,892.8 L1905.7,909.6 L1881.5,892.8 L1886.2,860.4Z M1964.6,844.7 L1988.8,860.4 L1986.5,892.8 L1958.8,909.6 L1934.0,892.8 L1937.5,860.4Z M2015.4,844.7 L2040.2,860.4 L2039.0,892.8 L2011.9,909.6 L1986.5,892.8 L1988.8,860.4Z M2066.1,844.7 L2091.5,860.4 L2091.5,892.8 L2065.0,909.6 L2039.0,892.8 L2040.2,860.4Z M2116.9,844.7 L2142.8,860.4 L2144.0,892.8 L2118.0,909.6 L2091.5,892.8 L2091.5,860.4Z M2167.6,844.7 L2194.2,860.4 L2196.5,892.8 L2171.1,909.6 L2144.0,892.8 L2142.8,860.4Z M2218.4,844.7 L2245.5,860.4 L2249.0,892.8 L2224.2,909.6 L2196.5,892.8 L2194.2,860.4Z M2269.2,844.7 L2296.8,860.4 L2301.5,892.8 L2277.3,909.6 L2249.0,892.8 L2245.5,860.4Z M2319.9,844.7 L2348.1,860.4 L2354.0,892.8 L2330.4,909.6 L2301.5,892.8 L2296.8,860.4Z M2370.7,844.7 L2399.5,860.4 L2406.5,892.8 L2383.5,909.6 L2354.0,892.8 L2348.1,860.4Z M2421.4,844.7 L2450.8,860.4 L2459.0,892.8 L2436.6,909.6 L2406.5,892.8 L2399.5,860.4Z M1776.5,892.8 L1799.5,909.6 L1792.6,944.3 L1761.5,962.3 L1738.2,944.3 L1746.4,909.6Z M1829.0,892.8 L1852.6,909.6 L1846.9,944.3 L1816.5,962.3 L1792.6,944.3 L1799.5,909.6Z M1881.5,892.8 L1905.7,909.6 L1901.3,944.3 L1871.5,962.3 L1846.9,944.3 L1852.6,909.6Z M1934.0,892.8 L1958.8,909.6 L1955.6,944.3 L1926.5,962.3 L1901.3,944.3 L1905.7,909.6Z M1986.5,892.8 L2011.9,909.6 L2010.0,944.3 L1981.5,962.3 L1955.6,944.3 L1958.8,909.6Z M2039.0,892.8 L2065.0,909.6 L2064.3,944.3 L2036.5,962.3 L2010.0,944.3 L2011.9,909.6Z M2091.5,892.8 L2118.0,909.6 L2118.7,944.3 L2091.5,962.3 L2064.3,944.3 L2065.0,909.6Z M2144.0,892.8 L2171.1,909.6 L2173.0,944.3 L2146.5,962.3 L2118.7,944.3 L2118.0,909.6Z M2196.5,892.8 L2224.2,909.6 L2227.4,944.3 L2201.5,962.3 L2173.0,944.3 L2171.1,909.6Z M2249.0,892.8 L2277.3,909.6 L2281.7,944.3 L2256.5,962.3 L2227.4,944.3 L2224.2,909.6Z M2301.5,892.8 L2330.4,909.6 L2336.1,944.3 L2311.5,962.3 L2281.7,944.3 L2277.3,909.6Z M2354.0,892.8 L2383.5,909.6 L2390.4,944.3 L2366.5,962.3 L2336.1,944.3 L2330.4,909.6Z M2406.5,892.8 L2436.6,909.6 L2444.8,944.3 L2421.5,962.3 L2390.4,944.3 L2383.5,909.6Z " fill="none" stroke="#6a6a6a" stroke-width="4.4" stroke-linejoin="round"/>
</g>
<ellipse cx="2072" cy="562" rx="52" ry="20" fill="#fff" filter="url(#b4)"/>
<ellipse cx="2110" cy="575" rx="22" ry="10" fill="#fff" filter="url(#b4)" opacity="0.8"/>
<g filter="url(#b1)">
<path d="M619.5,318.5 C625.4,324.9 642.9,342.8 655.0,357.0 C667.1,371.2 682.8,388.9 692.3,404.0 C701.8,419.1 707.2,433.6 712.0,447.4 C716.8,461.2 720.1,475.9 720.8,486.7 C721.5,497.5 717.6,504.2 716.0,512.3 C714.4,520.3 711.8,531.2 711.0,535.0 L670.7,526.0 C670.5,519.5 669.7,496.5 669.7,486.7 C669.7,476.9 668.9,473.6 670.7,467.0 C672.5,460.4 679.9,455.6 680.5,447.4 C681.1,439.2 677.2,428.4 674.6,417.9 C672.0,407.4 669.1,395.2 664.8,384.4 C660.5,373.6 656.5,364.0 649.0,353.0 C641.5,342.0 624.4,324.2 619.5,318.5Z" fill="url(#swoosh)" stroke="#3c8a55" stroke-width="4" stroke-dasharray="9 4.5" stroke-linejoin="round"/>
</g>
<g filter="url(#b1)">
<path d="M450.4,522.0 C438.3,528.9 427.5,536.4 427.5,548.0 C427.5,576.1 484.0,580.9 484.0,609.0 C484.0,640.7 428.0,646.3 428.0,678.0 C428.0,713.4 485.0,719.6 485.0,755.0 C485.0,796.9 414.0,804.1 414.0,846.0 C414.0,873.9 426.3,891.5 439.9,908.0" fill="none" stroke="#0a0a0a" stroke-width="12.6" stroke-linecap="round" stroke-linejoin="round"/>
<path d="M604.7,463.0 C588.8,482.6 562.9,495.5 562.9,525.8 C562.9,554.0 618.5,558.8 618.5,587.0 C618.5,620.6 565.0,626.4 565.0,660.0 C565.0,676.5 575.8,686.5 587.0,696.2" fill="none" stroke="#0a0a0a" stroke-width="12.6" stroke-linecap="round" stroke-linejoin="round"/>
<path d="M602.6,257.0 C591.2,290.8 556.0,304.2 556.0,347.7 C556.0,386.0 616.7,392.7 616.7,431.0 C616.7,445.4 610.8,455.9 603.0,465.0" fill="none" stroke="#0b6a9c" stroke-width="12.6" stroke-linecap="round" stroke-linejoin="round"/>
<path d="M802.1,623.0 C787.2,640.8 760.0,651.5 760.0,678.0 C760.0,711.1 810.7,716.9 810.7,750.0 C810.7,781.0 767.4,786.5 767.4,817.5 C767.4,835.3 776.7,845.6 785.9,856.0" fill="none" stroke="#0a0a0a" stroke-width="12.6" stroke-linecap="round" stroke-linejoin="round"/>
<path d="M799.4,418.0 C787.6,452.2 750.5,465.6 750.5,509.5 C750.5,550.4 811.6,557.6 811.6,598.5 C811.6,609.5 806.9,617.8 800.4,625.0" fill="none" stroke="#0b6a9c" stroke-width="12.6" stroke-linecap="round" stroke-linejoin="round"/>
<path d="M933.4,264.0 C922.5,271.8 911.7,279.7 911.7,293.0 C911.7,324.0 967.0,329.3 967.0,360.3 C967.0,397.9 904.5,404.4 904.5,442.0 C904.5,475.3 969.5,481.0 969.5,514.3 C969.5,560.8 896.3,568.9 896.3,615.4 C896.3,636.2 908.6,648.8 921.4,661.0" fill="none" stroke="#0a0a0a" stroke-width="12.6" stroke-linecap="round" stroke-linejoin="round"/>
<path d="M1860.4,516.0 C1848.3,522.9 1837.5,530.4 1837.5,542.0 C1837.5,570.1 1894.0,574.9 1894.0,603.0 C1894.0,634.7 1838.0,640.3 1838.0,672.0 C1838.0,707.4 1895.0,713.6 1895.0,749.0 C1895.0,790.9 1824.0,798.1 1824.0,840.0 C1824.0,867.9 1836.3,885.5 1849.9,902.0" fill="none" stroke="#0a0a0a" stroke-width="12.6" stroke-linecap="round" stroke-linejoin="round"/>
<path d="M1976.7,489.7 C1969.6,496.8 1962.8,504.0 1962.8,516.0 C1962.8,545.7 2022.2,550.9 2022.2,580.6 C2022.2,615.2 1966.3,621.2 1966.3,655.8 C1966.3,672.6 1979.9,682.6 1993.6,692.5" fill="none" stroke="#0a0a0a" stroke-width="12.6" stroke-linecap="round" stroke-linejoin="round"/>
<path d="M2198.1,628.0 C2183.7,643.5 2158.7,653.2 2158.7,676.7 C2158.7,708.9 2212.7,714.4 2212.7,746.6 C2212.7,778.8 2160.2,784.4 2160.2,816.6 C2160.2,834.9 2172.3,845.3 2183.9,856.0" fill="none" stroke="#0a0a0a" stroke-width="12.6" stroke-linecap="round" stroke-linejoin="round"/>
<path d="M2332.2,268.6 C2320.8,275.7 2310.0,283.0 2310.0,295.0 C2310.0,323.2 2367.3,328.1 2367.3,356.3 C2367.3,387.3 2310.2,392.7 2310.2,423.7 C2310.2,455.1 2370.0,460.6 2370.0,492.0 C2370.0,544.3 2299.5,553.4 2299.5,605.7 C2299.5,626.5 2311.7,639.0 2324.5,651.2" fill="none" stroke="#0a0a0a" stroke-width="12.6" stroke-linecap="round" stroke-linejoin="round"/>
</g>
<circle cx="2027.2" cy="134.5" r="100" fill="url(#gglow)"/>
<circle cx="2190.6" cy="243.0" r="100" fill="url(#gglow)"/>
<g filter="url(#b1)">
<path d="M2053.7,170.6 C2040.3,200.7 2000.0,212.9 2000.0,252.0 C2000.0,272.8 2019.8,284.8 2039.1,297.0" fill="none" stroke="url(#tail1)" stroke-width="11" stroke-linecap="round" stroke-linejoin="round"/>
<path d="M2212.5,282.9 C2201.9,312.1 2171.4,324.2 2171.4,362.4 C2171.4,398.1 2226.5,404.3 2226.5,440.0 C2226.5,455.4 2221.0,465.5 2214.6,474.7" fill="none" stroke="url(#tail2)" stroke-width="11" stroke-linecap="round" stroke-linejoin="round"/>
</g>
<g filter="url(#b15)">
<polygon points="2027.2,86.1 2036.3,100.7 2051.4,92.6 2052.0,109.7 2069.1,110.3 2061.0,125.4 2075.6,134.5 2061.0,143.6 2069.1,158.7 2052.0,159.3 2051.4,176.4 2036.3,168.3 2027.2,182.9 2018.1,168.3 2003.0,176.4 2002.4,159.3 1985.3,158.7 1993.4,143.6 1978.8,134.5 1993.4,125.4 1985.3,110.3 2002.4,109.7 2003.0,92.6 2018.1,100.7" fill="#8cbb52"/><circle cx="2027.2" cy="134.5" r="35.0" fill="#8cbb52"/><circle cx="2034.1" cy="108.9" r="3.4" fill="#caee94"/><circle cx="2045.9" cy="115.8" r="3.4" fill="#caee94"/><circle cx="2052.8" cy="127.6" r="3.4" fill="#caee94"/><circle cx="2052.8" cy="141.4" r="3.4" fill="#caee94"/><circle cx="2045.9" cy="153.2" r="3.4" fill="#caee94"/><circle cx="2034.1" cy="160.1" r="3.4" fill="#caee94"/><circle cx="2020.3" cy="160.1" r="3.4" fill="#caee94"/><circle cx="2008.5" cy="153.2" r="3.4" fill="#caee94"/><circle cx="2001.6" cy="141.4" r="3.4" fill="#caee94"/><circle cx="2001.6" cy="127.6" r="3.4" fill="#caee94"/><circle cx="2008.5" cy="115.8" r="3.4" fill="#caee94"/><circle cx="2020.3" cy="108.9" r="3.4" fill="#caee94"/><circle cx="2027.2" cy="134.5" r="21.1" fill="#8fbe50"/>
<polygon points="2190.6,194.6 2199.7,209.2 2214.8,201.1 2215.4,218.2 2232.5,218.8 2224.4,233.9 2239.0,243.0 2224.4,252.1 2232.5,267.2 2215.4,267.8 2214.8,284.9 2199.7,276.8 2190.6,291.4 2181.5,276.8 2166.4,284.9 2165.8,267.8 2148.7,267.2 2156.8,252.1 2142.2,243.0 2156.8,233.9 2148.7,218.8 2165.8,218.2 2166.4,201.1 2181.5,209.2" fill="#8cbb52"/><circle cx="2190.6" cy="243.0" r="35.0" fill="#8cbb52"/><circle cx="2197.5" cy="217.4" r="3.4" fill="#caee94"/><circle cx="2209.3" cy="224.3" r="3.4" fill="#caee94"/><circle cx="2216.2" cy="236.1" r="3.4" fill="#caee94"/><circle cx="2216.2" cy="249.9" r="3.4" fill="#caee94"/><circle cx="2209.3" cy="261.7" r="3.4" fill="#caee94"/><circle cx="2197.5" cy="268.6" r="3.4" fill="#caee94"/><circle cx="2183.7" cy="268.6" r="3.4" fill="#caee94"/><circle cx="2171.9" cy="261.7" r="3.4" fill="#caee94"/><circle cx="2165.0" cy="249.9" r="3.4" fill="#caee94"/><circle cx="2165.0" cy="236.1" r="3.4" fill="#caee94"/><circle cx="2171.9" cy="224.3" r="3.4" fill="#caee94"/><circle cx="2183.7" cy="217.4" r="3.4" fill="#caee94"/><circle cx="2190.6" cy="243.0" r="21.1" fill="#8fbe50"/>
<polygon points="577.8,184.3 586.0,199.6 600.8,190.5 600.3,207.9 617.7,207.4 608.6,222.2 623.9,230.4 608.6,238.6 617.7,253.4 600.3,252.9 600.8,270.3 586.0,261.2 577.8,276.5 569.6,261.2 554.8,270.3 555.3,252.9 537.9,253.4 547.0,238.6 531.7,230.4 547.0,222.2 537.9,207.4 555.3,207.9 554.8,190.5 569.6,199.6" fill="#7b697b"/><circle cx="577.8" cy="230.4" r="31.8" fill="#7b697b"/><circle cx="584.3" cy="206.1" r="3.2" fill="#fff"/><circle cx="595.6" cy="212.6" r="3.2" fill="#fff"/><circle cx="602.1" cy="223.9" r="3.2" fill="#fff"/><circle cx="602.1" cy="236.9" r="3.2" fill="#fff"/><circle cx="595.6" cy="248.2" r="3.2" fill="#fff"/><circle cx="584.3" cy="254.7" r="3.2" fill="#fff"/><circle cx="571.3" cy="254.7" r="3.2" fill="#fff"/><circle cx="560.0" cy="248.2" r="3.2" fill="#fff"/><circle cx="553.5" cy="236.9" r="3.2" fill="#fff"/><circle cx="553.5" cy="223.9" r="3.2" fill="#fff"/><circle cx="560.0" cy="212.6" r="3.2" fill="#fff"/><circle cx="571.3" cy="206.1" r="3.2" fill="#fff"/><circle cx="577.8" cy="230.4" r="18.4" fill="#9a6b8e"/>
<polygon points="774.6,338.3 782.8,353.6 797.6,344.5 797.1,361.9 814.5,361.4 805.4,376.2 820.7,384.4 805.4,392.6 814.5,407.4 797.1,406.9 797.6,424.3 782.8,415.2 774.6,430.5 766.4,415.2 751.6,424.3 752.1,406.9 734.7,407.4 743.8,392.6 728.5,384.4 743.8,376.2 734.7,361.4 752.1,361.9 751.6,344.5 766.4,353.6" fill="#7b697b"/><circle cx="774.6" cy="384.4" r="31.8" fill="#7b697b"/><circle cx="781.1" cy="360.1" r="3.2" fill="#fff"/><circle cx="792.4" cy="366.6" r="3.2" fill="#fff"/><circle cx="798.9" cy="377.9" r="3.2" fill="#fff"/><circle cx="798.9" cy="390.9" r="3.2" fill="#fff"/><circle cx="792.4" cy="402.2" r="3.2" fill="#fff"/><circle cx="781.1" cy="408.7" r="3.2" fill="#fff"/><circle cx="768.1" cy="408.7" r="3.2" fill="#fff"/><circle cx="756.8" cy="402.2" r="3.2" fill="#fff"/><circle cx="750.3" cy="390.9" r="3.2" fill="#fff"/><circle cx="750.3" cy="377.9" r="3.2" fill="#fff"/><circle cx="756.8" cy="366.6" r="3.2" fill="#fff"/><circle cx="768.1" cy="360.1" r="3.2" fill="#fff"/><circle cx="774.6" cy="384.4" r="18.4" fill="#9a6b8e"/>
</g>
<g filter="url(#b1)">
<ellipse cx="538.4" cy="625.7" rx="27.0" ry="26.2" fill="#181818"/><circle cx="538.2" cy="624.5" r="22.1" fill="url(#ballg)"/>
<ellipse cx="717.6" cy="673.3" rx="27.0" ry="26.2" fill="#181818"/><circle cx="717.4" cy="672.1" r="22.1" fill="url(#ballg)"/>
<ellipse cx="919.2" cy="698.9" rx="27.0" ry="26.2" fill="#181818"/><circle cx="919.0" cy="697.7" r="22.1" fill="url(#ballg)"/>
<ellipse cx="538.2" cy="795.5" rx="27.0" ry="26.2" fill="#181818"/><circle cx="538.0" cy="794.3" r="22.1" fill="url(#ballg)"/>
<ellipse cx="664.8" cy="846.5" rx="27.0" ry="26.2" fill="#181818"/><circle cx="664.6" cy="845.3" r="22.1" fill="url(#ballg)"/>
<ellipse cx="816.2" cy="890.3" rx="27.0" ry="26.2" fill="#181818"/><circle cx="816.0" cy="889.1" r="22.1" fill="url(#ballg)"/>
<ellipse cx="943.8" cy="915.8" rx="27.0" ry="26.2" fill="#181818"/><circle cx="943.6" cy="914.6" r="22.1" fill="url(#ballg)"/>
<ellipse cx="1937.5" cy="626.3" rx="27.0" ry="26.2" fill="#181818"/><circle cx="1937.3" cy="625.1" r="22.1" fill="url(#ballg)"/>
<ellipse cx="2117.6" cy="672.9" rx="27.0" ry="26.2" fill="#181818"/><circle cx="2117.4" cy="671.7" r="22.1" fill="url(#ballg)"/>
<ellipse cx="2320.6" cy="697.9" rx="27.0" ry="26.2" fill="#181818"/><circle cx="2320.4" cy="696.7" r="22.1" fill="url(#ballg)"/>
<ellipse cx="1937.5" cy="794.6" rx="27.0" ry="26.2" fill="#181818"/><circle cx="1937.3" cy="793.4" r="22.1" fill="url(#ballg)"/>
<ellipse cx="2062.7" cy="844.7" rx="27.0" ry="26.2" fill="#181818"/><circle cx="2062.5" cy="843.5" r="22.1" fill="url(#ballg)"/>
<ellipse cx="2217.2" cy="890.8" rx="27.0" ry="26.2" fill="#181818"/><circle cx="2217.0" cy="889.6" r="22.1" fill="url(#ballg)"/>
<ellipse cx="2345.8" cy="915.3" rx="27.0" ry="26.2" fill="#181818"/><circle cx="2345.6" cy="914.1" r="22.1" fill="url(#ballg)"/>
</g>
<g filter="url(#b1)">
<g id="sc"><path d="M2060,447 C2095,462 2112,470 2134,482" fill="none" stroke="#8a8a8a" stroke-width="7.0" stroke-linecap="round"/><ellipse cx="2160.5" cy="477" rx="27" ry="19.5" transform="rotate(14 2160.5 477)" fill="none" stroke="#787878" stroke-width="5.5"/><path d="M2060,452 C2066,478 2072,492 2076,508" fill="none" stroke="#bdbdbd" stroke-width="9.0" stroke-linecap="round"/><ellipse cx="2071" cy="537" rx="21" ry="31" transform="rotate(-22 2071 537)" fill="none" stroke="#808080" stroke-width="5.5"/><path d="M1946,392 L2043.5,429.5 L2057,443 L2043,450 C2010,432 1975,410 1946,392Z" fill="url(#blade)" stroke="#9a9a9a" stroke-width="2" stroke-linejoin="round"/><polygon points="2011,346 2024,350 2043,386 2066,440 2078,452 2066,458 2047,443 2033,416 2018,375" fill="#2c2c2c"/><circle cx="2062" cy="450" r="8" fill="#111"/></g>
<g transform="translate(1209.2 693.7) scale(0.5) translate(-2062 -450)"><g id="sc2"><path d="M2060,447 C2095,462 2112,470 2134,482" fill="none" stroke="#8a8a8a" stroke-width="9.5" stroke-linecap="round"/><ellipse cx="2160.5" cy="477" rx="27" ry="19.5" transform="rotate(14 2160.5 477)" fill="none" stroke="#787878" stroke-width="7.4"/><path d="M2060,452 C2066,478 2072,492 2076,508" fill="none" stroke="#bdbdbd" stroke-width="12.2" stroke-linecap="round"/><ellipse cx="2071" cy="537" rx="21" ry="31" transform="rotate(-22 2071 537)" fill="none" stroke="#808080" stroke-width="7.4"/><path d="M1946,392 L2043.5,429.5 L2057,443 L2043,450 C2010,432 1975,410 1946,392Z" fill="url(#blade)" stroke="#9a9a9a" stroke-width="2" stroke-linejoin="round"/><polygon points="2011,346 2024,350 2043,386 2066,440 2078,452 2066,458 2047,443 2033,416 2018,375" fill="#2c2c2c"/><circle cx="2062" cy="450" r="8" fill="#111"/></g></g>
</g>
<g filter="url(#b1)">
<line x1="1079" y1="786" x2="1632" y2="786" stroke="#2f2012" stroke-width="13" stroke-linecap="round"/>
<line x1="1080" y1="786" x2="1632" y2="786" stroke="#5e3a16" stroke-width="7"/>
<polygon points="1627,754 1681,786 1627,818" fill="#7a4a12" stroke="#3a2410" stroke-width="3" stroke-linejoin="round"/>
</g>
<g filter="url(#b1)">
<ellipse cx="690.0" cy="1107.8" rx="28.5" ry="27.7" fill="#181818"/><circle cx="689.8" cy="1106.6" r="23.6" fill="url(#ballg)"/>
</g>
<g filter="url(#b15)">
<polygon points="1172.7,1065.3 1180.7,1080.2 1195.0,1071.3 1194.5,1088.2 1211.4,1087.7 1202.5,1102.0 1217.4,1110.0 1202.5,1118.0 1211.4,1132.3 1194.5,1131.8 1195.0,1148.7 1180.7,1139.8 1172.7,1154.7 1164.7,1139.8 1150.4,1148.7 1150.9,1131.8 1134.0,1132.3 1142.9,1118.0 1128.0,1110.0 1142.9,1102.0 1134.0,1087.7 1150.9,1088.2 1150.4,1071.3 1164.7,1080.2" fill="#7b697b"/><circle cx="1172.7" cy="1110.0" r="30.9" fill="#7b697b"/><circle cx="1179.0" cy="1086.4" r="3.1" fill="#fff"/><circle cx="1190.0" cy="1092.7" r="3.1" fill="#fff"/><circle cx="1196.3" cy="1103.7" r="3.1" fill="#fff"/><circle cx="1196.3" cy="1116.3" r="3.1" fill="#fff"/><circle cx="1190.0" cy="1127.3" r="3.1" fill="#fff"/><circle cx="1179.0" cy="1133.6" r="3.1" fill="#fff"/><circle cx="1166.4" cy="1133.6" r="3.1" fill="#fff"/><circle cx="1155.4" cy="1127.3" r="3.1" fill="#fff"/><circle cx="1149.1" cy="1116.3" r="3.1" fill="#fff"/><circle cx="1149.1" cy="1103.7" r="3.1" fill="#fff"/><circle cx="1155.4" cy="1092.7" r="3.1" fill="#fff"/><circle cx="1166.4" cy="1086.4" r="3.1" fill="#fff"/><circle cx="1172.7" cy="1110.0" r="17.9" fill="#9a6b8e"/>
</g>
<circle cx="1825" cy="1110" r="98" fill="url(#gglow2)"/>
<rect x="1898" y="1066" width="140" height="112" fill="#fff"/>
<g filter="url(#b15)">
<polygon points="1825.0,1060.4 1833.8,1074.6 1848.5,1066.7 1849.0,1083.4 1865.7,1083.9 1857.8,1098.6 1872.0,1107.4 1857.8,1116.2 1865.7,1130.9 1849.0,1131.4 1848.5,1148.1 1833.8,1140.2 1825.0,1154.4 1816.2,1140.2 1801.5,1148.1 1801.0,1131.4 1784.3,1130.9 1792.2,1116.2 1778.0,1107.4 1792.2,1098.6 1784.3,1083.9 1801.0,1083.4 1801.5,1066.7 1816.2,1074.6" fill="#8cbb52"/><circle cx="1825.0" cy="1107.4" r="34.0" fill="#8cbb52"/><circle cx="1831.7" cy="1082.6" r="3.3" fill="#caee94"/><circle cx="1843.2" cy="1089.2" r="3.3" fill="#caee94"/><circle cx="1849.8" cy="1100.7" r="3.3" fill="#caee94"/><circle cx="1849.8" cy="1114.1" r="3.3" fill="#caee94"/><circle cx="1843.2" cy="1125.6" r="3.3" fill="#caee94"/><circle cx="1831.7" cy="1132.2" r="3.3" fill="#caee94"/><circle cx="1818.3" cy="1132.2" r="3.3" fill="#caee94"/><circle cx="1806.8" cy="1125.6" r="3.3" fill="#caee94"/><circle cx="1800.2" cy="1114.1" r="3.3" fill="#caee94"/><circle cx="1800.2" cy="1100.7" r="3.3" fill="#caee94"/><circle cx="1806.8" cy="1089.2" r="3.3" fill="#caee94"/><circle cx="1818.3" cy="1082.6" r="3.3" fill="#caee94"/><circle cx="1825.0" cy="1107.4" r="20.5" fill="#8fbe50"/>
</g>
<g filter="url(#b1)">
<path d="M471.9,1271.4 C483.1,1283.8 494.8,1295.3 513.8,1295.3 C552.4,1295.3 559.1,1236.6 597.7,1236.6 C636.2,1236.6 643.0,1288.6 681.5,1288.6 C709.3,1288.6 714.1,1233.3 741.9,1233.3 C757.3,1233.3 766.5,1243.4 775.5,1253.6" fill="none" stroke="#0a0a0a" stroke-width="13" stroke-linecap="round" stroke-linejoin="round"/>
<path d="M1310.9,1271.6 C1320.3,1275.4 1330.2,1278.8 1346.0,1278.8 C1382.4,1278.8 1388.7,1221.6 1425.1,1221.6 C1467.6,1221.6 1474.9,1267.8 1517.4,1267.8 C1555.8,1267.8 1562.5,1212.0 1600.9,1212.0 C1634.8,1212.0 1648.9,1238.6 1671.2,1254.1" fill="none" stroke="#1c6d99" stroke-width="11" stroke-linecap="round" stroke-linejoin="round"/>
</g>
<g id="txt">
<text x="590.9" y="1047.9" font-family="Liberation Sans, Arial, sans-serif" font-weight="700" font-size="66" fill="#0a0a0a"  >MGO</text>
<text x="2038.5" y="1037.1" font-family="Liberation Sans, Arial, sans-serif" font-weight="700" font-size="64" fill="#0a0a0a"  >MGO</text>
<text x="1286.0" y="715.8" font-family="Liberation Sans, Arial, sans-serif" font-weight="700" font-size="78" fill="#ff0000"  >enzyme</text>
<g filter="url(#b05)">
<text y="1139" font-family="Liberation Sans, Arial, sans-serif" font-weight="700" font-size="64" fill="#1c1c1c"><tspan x="822" textLength="70" lengthAdjust="spacingAndGlyphs">Fe</tspan><tspan x="893" y="1152" font-size="41">3</tspan><tspan x="917.5" y="1139">O</tspan><tspan x="966.5" y="1152" font-size="43">4</tspan></text>
<text y="1138" font-family="Liberation Sans, Arial, sans-serif" font-weight="700" font-size="64" fill="#141414"><tspan x="1224.5" textLength="312" lengthAdjust="spacingAndGlyphs">Quenched</tspan> <tspan x="1558.5" textLength="132" lengthAdjust="spacingAndGlyphs">FITC</tspan></text>
<text x="1893.0" y="1138.0" font-family="Liberation Sans, Arial, sans-serif" font-weight="700" font-size="64" fill="#141414" textLength="132.0" lengthAdjust="spacingAndGlyphs" >FITC</text>
<text x="811.0" y="1289.9" font-family="Liberation Sans, Arial, sans-serif" font-weight="700" font-size="79" fill="#0a0a10" textLength="481.0" lengthAdjust="spacingAndGlyphs" >spacer/linker</text>
<text x="1763.0" y="1276.7" font-family="Liberation Sans, Arial, sans-serif" font-weight="700" font-size="62" fill="#141414" textLength="234.0" lengthAdjust="spacingAndGlyphs" >peptide</text>
</g></g>
</svg>
</body></html>
